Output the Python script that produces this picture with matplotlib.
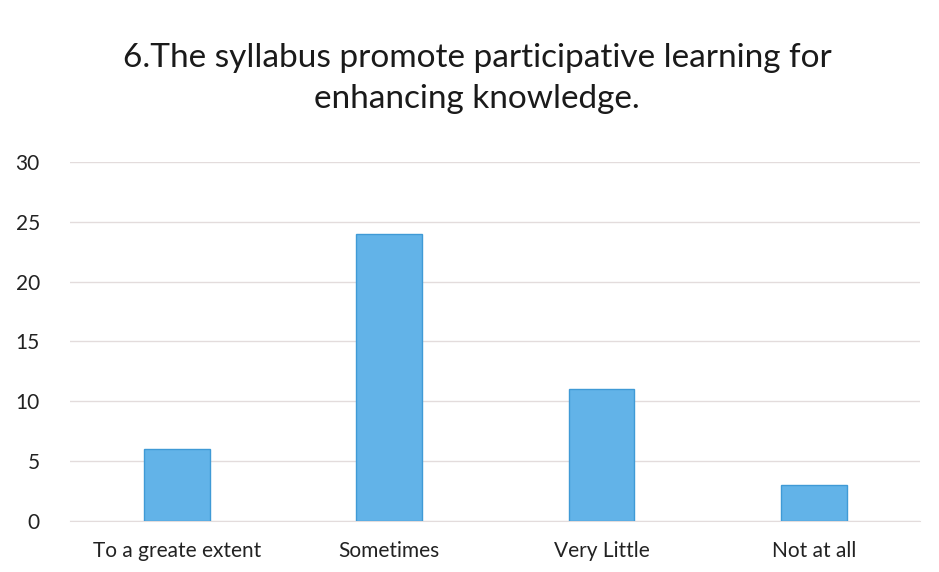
import matplotlib.pyplot as plt

categories = ['To a greate extent', 'Sometimes', 'Very Little', 'Not at all']
counts = [6, 24, 11, 3]
yticks = [0, 5, 10, 15, 20, 25, 30]

plt.rcParams['font.family'] = ['Lato', 'DejaVu Sans']

fig = plt.figure(figsize=(9.39, 5.72), dpi=100)
ax = fig.add_axes([0.075, 0.089, 0.905, 0.628])

ax.bar(range(len(categories)), counts, width=0.31, color='#62b3e8',
       edgecolor='#3f9ad6', linewidth=1, zorder=3)

ax.set_ylim(0, 30)
ax.set_xlim(-0.5, len(categories) - 0.5)
ax.set_yticks(yticks)
ax.set_xticks(range(len(categories)))
ax.set_xticklabels(categories)
ax.tick_params(axis='both', length=0, labelsize=15, colors='#222222')
ax.tick_params(axis='y', pad=22)
ax.tick_params(axis='x', pad=14)
ax.grid(axis='y', color='#e3dcdc', linewidth=1, zorder=0)
for s in ['top', 'right', 'left']:
    ax.spines[s].set_visible(False)
ax.spines['bottom'].set_color('#e3dcdc')

fig.text(0.508, 0.925, '6.The syllabus promote participative learning for\nenhancing knowledge.',
         ha='center', va='top', fontsize=24, color='#1a1a1a', linespacing=1.45)

fig.savefig('out.png', dpi=100)
